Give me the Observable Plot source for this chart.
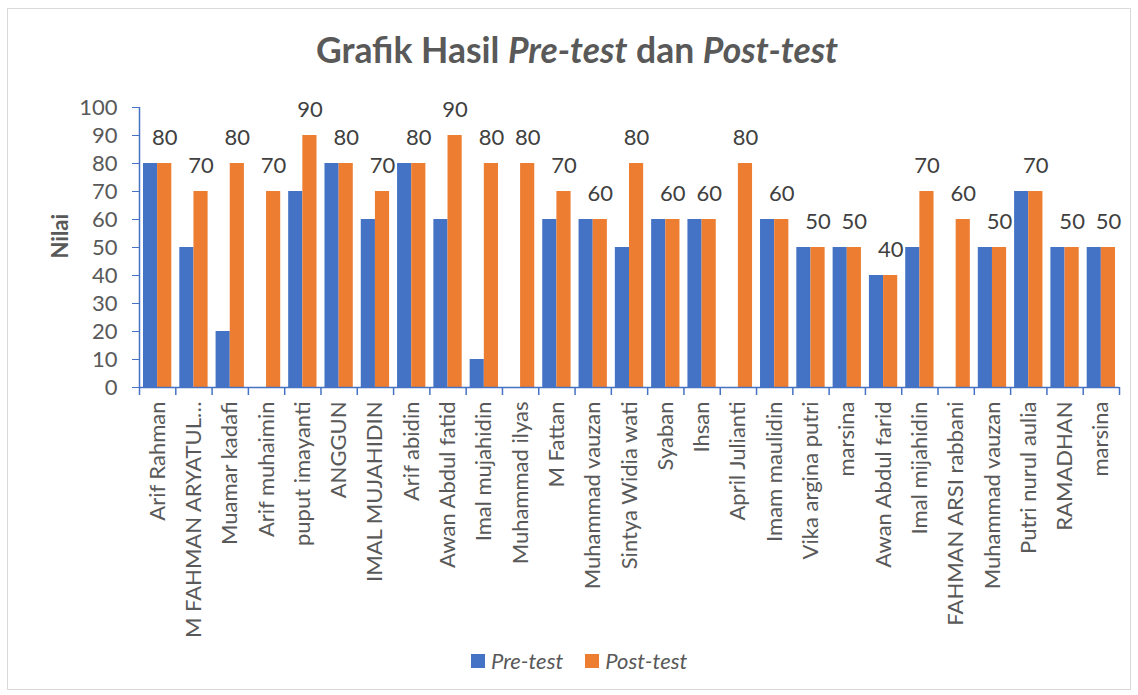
<!DOCTYPE html>
<html>
<head>
<meta charset="utf-8">
<script src="https://cdn.jsdelivr.net/npm/d3@7"></script>
<script src="https://cdn.jsdelivr.net/npm/@observablehq/plot@0.6"></script>
<style>
  html, body { margin: 0; padding: 0; background: #fff; }
  #wrap { position: relative; width: 1138px; height: 695px; font-family: Lato, "Open Sans", sans-serif; }
  #frame { position: absolute; left: 7px; top: 8px; width: 1122px; height: 680px; border: 1px solid #d9d9d9; }
  #title { position: absolute; top: 29px; left: 16px; width: 1122px; text-align: center; font-weight: bold; font-size: 35.5px; line-height: 1.2; color: #595959; }
  #chart { position: absolute; top: 90px; left: 0; }
  #legend { position: absolute; top: 648px; left: 471px; display: flex; align-items: center; font-size: 22px; line-height: 26px; font-style: italic; color: #595959; }
  #legend .sw { width: 14px; height: 14px; display: inline-block; margin-right: 6px; }
  #legend .item { display: flex; align-items: center; margin-right: 22px; }
</style>
</head>
<body>
<div id="wrap">
  <div id="frame"></div>
  <div id="title">Grafik Hasil <i>Pre-test</i> dan <i>Post-test</i></div>
  <div id="chart"></div>
  <div id="legend"></div>
</div>
<script>
const names = ["Arif Rahman", "M FAHMAN ARYATUL…", "Muamar kadafi", "Arif muhaimin", "puput imayanti", "ANGGUN", "IMAL MUJAHIDIN", "Arif abidin", "Awan Abdul fatid", "Imal mujahidin", "Muhammad ilyas", "M Fattan", "Muhammad vauzan", "Sintya Widia wati", "Syaban", "Ihsan", "April Julianti", "Imam maulidin", "Vika argina putri", "marsina", "Awan Abdul farid", "Imal mijahidin", "FAHMAN ARSI rabbani", "Muhammad vauzan", "Putri nurul aulia", "RAMADHAN", "marsina"];
const preTest  = [80, 50, 20, 0, 70, 80, 60, 80, 60, 10, 0, 60, 60, 50, 60, 60, 0, 60, 50, 50, 40, 50, 0, 50, 70, 50, 50];
const postTest = [80, 70, 80, 70, 90, 80, 70, 80, 90, 80, 80, 70, 60, 80, 60, 60, 80, 60, 50, 50, 40, 70, 60, 50, 70, 50, 50];
const yTicks = [0, 10, 20, 30, 40, 50, 60, 70, 80, 90, 100];
const seriesNames = ["Pre-test", "Post-test"];
const seriesColors = ["#4472c4", "#ed7d31"];
const axisColor = "#4472c4";
const textColor = "#595959";

const rows = names.map((name, i) => ({i, name, pre: preTest[i], post: postTest[i]}));
const n = names.length;

const plot = Plot.plot({
  width: 1138,
  height: 555,
  marginTop: 17,
  marginBottom: 258,
  marginLeft: 139,
  marginRight: 19,
  style: {fontFamily: "Lato, 'Open Sans', sans-serif", background: "transparent"},
  x: {domain: [0, n]},
  y: {domain: [0, d3.max(yTicks)]},
  marks: [
    Plot.rect(rows, {x1: d => d.i + 0.11, x2: d => d.i + 0.5, y1: () => 0, y2: "pre", fill: seriesColors[0]}),
    Plot.rect(rows, {x1: d => d.i + 0.5, x2: d => d.i + 0.89, y1: () => 0, y2: "post", fill: seriesColors[1]}),
    Plot.text(rows, {x: d => d.i + 0.695, y: "post", text: d => String(d.post), dy: -26, fontSize: 22, fill: "#404040"}),
    Plot.ruleY([0], {stroke: axisColor, strokeWidth: 1.5}),
    Plot.ruleX([0], {y1: () => 0, y2: () => d3.max(yTicks), stroke: axisColor, strokeWidth: 1.5}),
    Plot.ruleX(d3.range(n + 1), {y1: () => 0, y2: () => 0, insetBottom: -8, stroke: axisColor, strokeWidth: 1.5}),
    Plot.axisY({ticks: yTicks, tickSize: 7, tickPadding: 15, stroke: axisColor, color: textColor, fontSize: 22, label: null}),
    Plot.axisX({ticks: d3.range(n).map(i => i + 0.5), tickFormat: v => names[Math.floor(v)], tickSize: 0, tickPadding: 14, tickRotate: -90, color: textColor, fontSize: 22, label: null}),
    Plot.text(["Nilai"], {frameAnchor: "left", rotate: -90, dx: -79, dy: 11, fontSize: 22, fontWeight: "bold", fill: textColor})
  ]
});
document.getElementById("chart").appendChild(plot);

const legend = document.getElementById("legend");
seriesNames.forEach((s, k) => {
  const item = document.createElement("span");
  item.className = "item";
  const sw = document.createElement("span");
  sw.className = "sw";
  sw.style.background = seriesColors[k];
  item.appendChild(sw);
  item.appendChild(document.createTextNode(s));
  legend.appendChild(item);
});
</script>
</body>
</html>
